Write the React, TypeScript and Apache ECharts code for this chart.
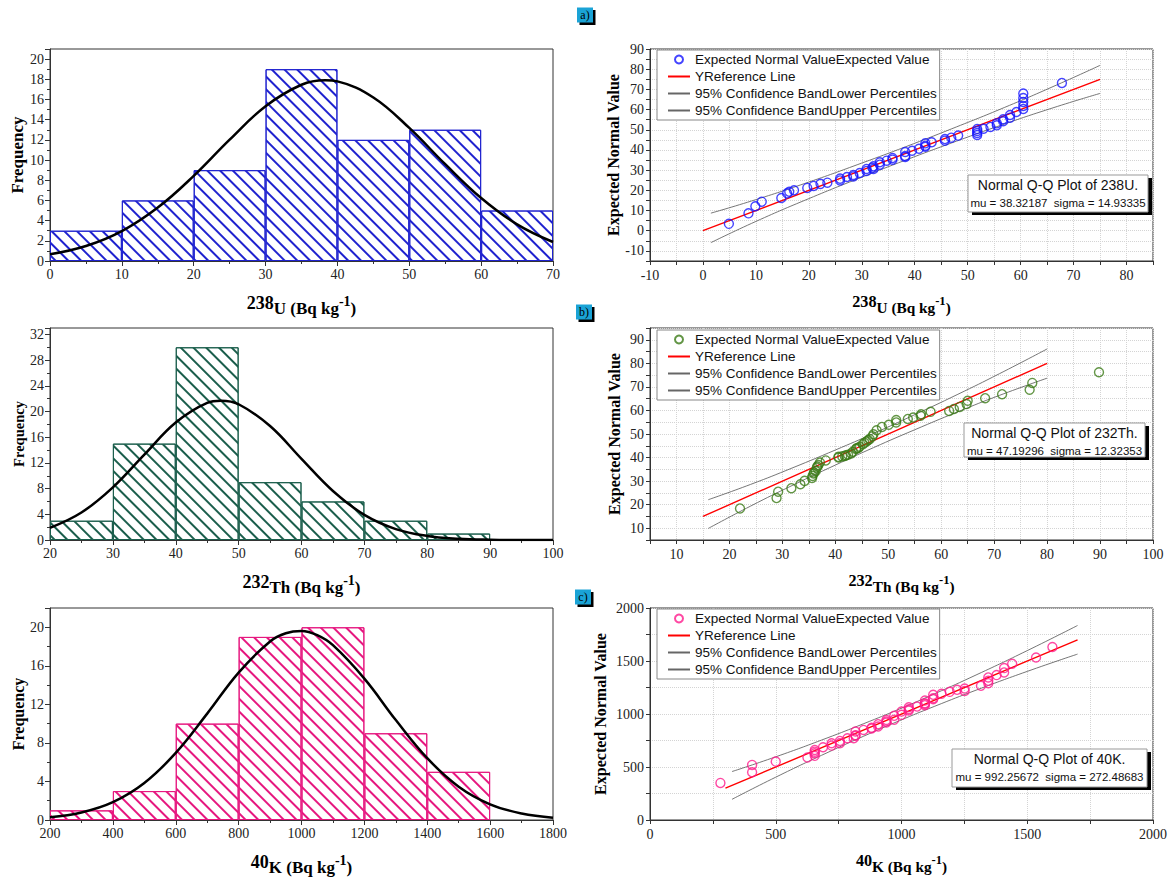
import React, { useEffect, useRef } from 'react';
import * as echarts from 'echarts';

const SERIF = 'Liberation Serif';
const SANS = 'Liberation Sans';

// ---------- Histogram data ----------
const uBinCenters = [5, 15, 25, 35, 45, 55, 65];
const uCounts = [3, 6, 9, 19, 12, 13, 5];
const uCurveX = [0, 5, 10, 15, 20, 25, 30, 35, 38.3, 40, 45, 50, 55, 60, 65, 70];
const uCurveY = [0.66, 1.48, 2.96, 5.29, 8.43, 12.02, 15.33, 17.46, 17.9, 17.79, 16.2, 13.18, 9.59, 6.24, 3.63, 1.88];

const thBinCenters = [25, 35, 45, 55, 65, 75, 85];
const thCounts = [3, 15, 30, 9, 6, 3, 1];
const thCurveX = [20, 25, 30, 35, 40, 45, 47.2, 50, 55, 60, 65, 70, 75, 80, 85, 90, 95, 100];
const thCurveY = [1.9, 4.28, 8.2, 13.29, 18.29, 21.35, 21.69, 21.13, 17.74, 12.63, 7.63, 3.91, 1.7, 0.63, 0.2, 0.05, 0.01, 0];

const kBinCenters = [300, 500, 700, 900, 1100, 1300, 1500];
const kCounts = [1, 3, 10, 19, 20, 9, 5];
const kCurveX = [200, 300, 400, 500, 600, 700, 800, 900, 950, 1000, 1050, 1100, 1200, 1300, 1400, 1500, 1600, 1700, 1800];
const kCurveY = [0.29, 0.78, 1.85, 3.84, 6.96, 11.04, 15.3, 18.53, 19.38, 19.61, 19.18, 18.14, 14.67, 10.37, 6.41, 3.46, 1.63, 0.67, 0.24];

// ---------- Q-Q data ----------
const uObs = [4.9, 8.6, 9.9, 11.1, 14.8, 15.9, 16.3, 17.2, 19.7, 20.9, 22.2, 23.5, 25.9, 25.9, 27.2, 28.4, 28.4, 29.6, 30.9, 30.9, 32.2, 32.0, 32.2, 33.4, 33.4, 34.7, 35.8, 35.8, 38.2, 38.2, 38.2, 39.5, 40.8, 42.0, 42.0, 42.0, 43.2, 45.7, 45.7, 46.9, 48.2, 51.8, 51.8, 51.8, 51.8, 53.0, 54.3, 55.5, 55.5, 56.7, 56.7, 58.0, 58.0, 59.2, 60.5, 60.5, 60.5, 60.5, 60.5, 67.8];
const uExp = [3.4, 8.6, 12.1, 14.4, 16.2, 18.5, 19.3, 20.0, 21.2, 22.2, 23.2, 23.8, 24.9, 25.8, 26.6, 26.9, 27.6, 28.6, 29.6, 30.6, 30.6, 31.2, 31.9, 32.7, 33.9, 34.7, 35.2, 36.0, 36.5, 37.0, 39.0, 39.6, 40.6, 41.6, 42.1, 43.3, 43.8, 44.6, 45.4, 46.1, 47.1, 47.4, 48.4, 49.4, 50.4, 50.5, 51.4, 52.2, 53.2, 54.2, 55.2, 56.0, 57.3, 58.8, 60.3, 61.8, 63.7, 65.7, 67.9, 73.2];
const uRefX = [0, 75];
const uRefY = [0, 75];
const uBandX = [1.5, 10, 20, 30, 38.3, 47, 57, 67, 75];
const uBandUpper = [8.7, 15.4, 24.1, 33.5, 41.6, 50.5, 61.1, 72.4, 81.9];
const uBandLower = [-5.9, 4.6, 15.9, 26.5, 35.0, 43.5, 52.9, 61.6, 68.0];

const thObs = [22.0, 28.9, 29.2, 31.7, 33.4, 34.2, 35.6, 35.7, 35.9, 36.0, 36.3, 36.5, 36.6, 36.8, 37.1, 38.2, 40.6, 40.6, 41.3, 41.8, 42.0, 42.4, 43.0, 43.3, 43.9, 44.0, 44.3, 44.6, 45.2, 45.5, 45.9, 46.2, 46.5, 47.0, 47.2, 47.8, 48.8, 50.1, 51.5, 51.5, 53.7, 54.7, 56.1, 56.2, 58.0, 61.5, 62.4, 63.5, 64.8, 65.0, 68.3, 71.5, 76.7, 77.2, 89.8];
const thExp = [18.4, 22.8, 25.5, 27.0, 28.7, 30.1, 31.3, 32.2, 33.2, 33.7, 34.3, 35.7, 36.2, 36.8, 37.9, 38.8, 40.0, 40.3, 40.5, 40.7, 41.0, 41.2, 41.7, 42.5, 43.6, 43.9, 44.1, 44.6, 45.7, 46.3, 46.8, 47.4, 47.9, 49.0, 49.9, 51.6, 53.0, 53.9, 54.9, 55.9, 56.4, 57.0, 57.7, 58.4, 59.4, 59.8, 60.6, 61.5, 62.7, 64.1, 65.2, 66.9, 68.8, 71.7, 76.2];
const thRefX = [15, 80];
const thRefY = [15, 80];
const thBandX = [16, 24, 32, 40, 47.2, 55, 63, 71, 80];
const thBandUpper = [22.1, 28.6, 35.7, 43.2, 50.2, 58.2, 66.7, 75.6, 86.1];
const thBandLower = [9.9, 19.4, 28.3, 36.8, 44.2, 51.8, 59.3, 66.4, 73.7];

const kObs = [280, 406, 406, 500, 626, 655, 655, 655, 655, 688, 722, 722, 755, 755, 785, 810, 817, 817, 817, 849, 881, 881, 907, 907, 940, 940, 940, 971, 971, 1000, 1000, 1029, 1029, 1029, 1062, 1093, 1093, 1093, 1093, 1126, 1126, 1126, 1159, 1192, 1221, 1251, 1251, 1316, 1345, 1345, 1345, 1378, 1408, 1408, 1440, 1535, 1600];
const kExp = [350, 450, 520, 551, 589, 605, 630, 645, 661, 686, 702, 724, 724, 746, 771, 771, 794, 800, 835, 850, 863, 870, 882, 904, 919, 930, 944, 945, 983, 992, 1023, 1033, 1045, 1064, 1070, 1083, 1095, 1102, 1127, 1140, 1149, 1181, 1190, 1209, 1228, 1218, 1240, 1266, 1291, 1313, 1345, 1367, 1392, 1433, 1474, 1533, 1632];
const kRefX = [300, 1700];
const kRefY = [300, 1700];
const kBandX = [326, 500, 700, 850, 992, 1130, 1300, 1500, 1700];
const kBandUpper = [457, 596, 770, 909, 1047, 1189, 1372, 1598, 1835];
const kBandLower = [195, 404, 630, 791, 937, 1071, 1228, 1402, 1565];

const uStats = { mu: '38.32187', sigma: '14.93335' };
const thStats = { mu: '47.19296', sigma: '12.32353' };
const kStats = { mu: '992.25672', sigma: '272.48683' };

const LEGEND_NAMES = [
  'Expected Normal ValueExpected Value',
  'YReference Line',
  '95% Confidence BandLower Percentiles',
  '95% Confidence BandUpper Percentiles',
];

const pairs = (xs: number[], ys: number[]) => xs.map((x, i) => [x, ys[i]]);

const GRID_W = 503;
const GRID_H = 212;
const LEFT_X = 50;
const RIGHT_X = 650;
const TOPS = [49, 328, 608];

function richName(s: number) {
  return {
    a: { fontFamily: SERIF, fontWeight: 'bold', fontSize: 18 * s, lineHeight: 18 * s, verticalAlign: 'top', color: '#000' },
    b: { fontFamily: SERIF, fontWeight: 'bold', fontSize: 17 * s, lineHeight: 23 * s, verticalAlign: 'bottom', color: '#000' },
    c: { fontFamily: SERIF, fontWeight: 'bold', fontSize: 14 * s, lineHeight: 14 * s, verticalAlign: 'top', color: '#000' },
  };
}

const axisLineStyle = { color: '#333', width: 1 };
const labelStyle = { fontFamily: SERIF, fontSize: 14, color: '#222' };

function histX(gi: number, min: number, max: number, interval: number, iso: string, el: string) {
  return {
    gridIndex: gi, type: 'value', min, max, interval,
    axisLine: { show: true, onZero: false, lineStyle: axisLineStyle },
    axisTick: { show: true, length: 5, lineStyle: axisLineStyle },
    minorTick: { show: true, splitNumber: 2, length: 3, lineStyle: axisLineStyle },
    axisLabel: { ...labelStyle, margin: 6, formatter: (v: number) => String(v) },
    splitLine: { show: false },
    name: `{a|${iso}}{b|${el} (Bq kg}{c|-1}{b|)}`,
    nameLocation: 'middle', nameGap: 33,
    nameTextStyle: { rich: richName(1) },
  };
}

function histY(gi: number, max: number, interval: number, nameSize: number) {
  return {
    gridIndex: gi, type: 'value', min: 0, max, interval,
    axisLine: { show: true, onZero: false, lineStyle: axisLineStyle },
    axisTick: { show: true, length: 5, lineStyle: axisLineStyle },
    minorTick: { show: true, splitNumber: 2, length: 3, lineStyle: axisLineStyle },
    axisLabel: { ...labelStyle, margin: 6, formatter: (v: number) => (v % interval === 0 ? String(v) : '') },
    splitLine: { show: false },
    name: 'Frequency', nameLocation: 'middle', nameGap: 24,
    nameTextStyle: { fontFamily: SERIF, fontWeight: 'bold', fontSize: nameSize, color: '#000' },
  };
}

const gridLine = { show: true, lineStyle: { color: '#d4d4d4', type: 'dotted', width: 1 } };

function qqX(gi: number, min: number, max: number, step: number, major: number, iso: string, el: string) {
  return {
    gridIndex: gi, type: 'value', min, max, interval: step,
    axisLine: { show: true, onZero: false, lineStyle: axisLineStyle },
    axisTick: { show: true, length: 4, lineStyle: axisLineStyle },
    axisLabel: { ...labelStyle, margin: 7, formatter: (v: number) => (v % major === 0 ? String(v) : '') },
    splitLine: gridLine,
    name: `{a|${iso}}{b|${el} (Bq kg}{c|-1}{b|)}`,
    nameLocation: 'middle', nameGap: 33,
    nameTextStyle: { rich: richName(0.9) },
  };
}

function qqY(gi: number, min: number, max: number, step: number, major: number, gap: number) {
  return {
    gridIndex: gi, type: 'value', min, max, interval: step,
    axisLine: { show: true, onZero: false, lineStyle: axisLineStyle },
    axisTick: { show: true, length: 4, lineStyle: axisLineStyle },
    axisLabel: { ...labelStyle, margin: 6, formatter: (v: number) => (v % major === 0 ? String(v) : '') },
    splitLine: gridLine,
    name: 'Expected Normal Value', nameLocation: 'middle', nameGap: gap,
    nameTextStyle: { fontFamily: SERIF, fontWeight: 'bold', fontSize: 16, color: '#000' },
  };
}

function histSeries(idx: number, centers: number[], counts: number[], curveX: number[], curveY: number[], color: string, barW: number) {
  return [
    {
      name: 'hist' + idx, type: 'bar', xAxisIndex: idx, yAxisIndex: idx,
      data: pairs(centers, counts), barWidth: barW, z: 2,
      itemStyle: {
        color: '#ffffff', borderColor: color, borderWidth: 1,
        decal: { symbol: 'rect', symbolSize: 1, color, dashArrayX: [1, 0], dashArrayY: [1.7, 7], rotation: Math.PI / 4 },
      },
    },
    {
      name: 'curve' + idx, type: 'line', xAxisIndex: idx, yAxisIndex: idx,
      data: pairs(curveX, curveY), smooth: 0.4, showSymbol: false, symbol: 'none', z: 4,
      lineStyle: { color: '#000', width: 2.5 },
    },
  ];
}

const NOFILL = 'rgba(0,0,0,0)';

function qqSeries(idx: number, tag: string, obs: number[], exp: number[], refX: number[], refY: number[], bx: number[], bl: number[], bu: number[], color: string) {
  return [
    {
      name: LEGEND_NAMES[2] + tag, type: 'line', xAxisIndex: idx, yAxisIndex: idx,
      data: pairs(bx, bl), smooth: 0.5, symbol: 'none', z: 3,
      itemStyle: { color: NOFILL, borderWidth: 0 },
      lineStyle: { color: '#666', width: 0.9 },
    },
    {
      name: LEGEND_NAMES[3] + tag, type: 'line', xAxisIndex: idx, yAxisIndex: idx,
      data: pairs(bx, bu), smooth: 0.5, symbol: 'none', z: 3,
      itemStyle: { color: NOFILL, borderWidth: 0 },
      lineStyle: { color: '#666', width: 0.9 },
    },
    {
      name: LEGEND_NAMES[1] + tag, type: 'line', xAxisIndex: idx, yAxisIndex: idx,
      data: pairs(refX, refY), symbol: 'none', z: 4,
      itemStyle: { color: NOFILL, borderWidth: 0 },
      lineStyle: { color: '#ff0000', width: 1.4 },
    },
    {
      name: LEGEND_NAMES[0] + tag, type: 'scatter', xAxisIndex: idx, yAxisIndex: idx,
      data: pairs(obs, exp), symbol: 'circle', symbolSize: 9, z: 5,
      itemStyle: { color: NOFILL, borderColor: color, borderWidth: 1.4 },
    },
  ];
}

function legendFor(tag: string, top: number) {
  return {
    orient: 'vertical', left: 657, top,
    data: [LEGEND_NAMES[0] + tag, LEGEND_NAMES[1] + tag, LEGEND_NAMES[2] + tag, LEGEND_NAMES[3] + tag],
    formatter: (n: string) => n.split('|')[0],
    selectedMode: false,
    itemWidth: 22, itemHeight: 8, itemGap: 2,
    padding: [2, 3, 2, 10],
    borderColor: '#888', borderWidth: 1, backgroundColor: '#fff',
    textStyle: { fontFamily: SANS, fontSize: 13.5, color: '#111', lineHeight: 15 },
  };
}

function qqBox(x: number, y: number, w: number, h: number, title: string, sub: string) {
  return [
    { type: 'rect', shape: { x: x + 4, y: y + 3, width: w, height: h }, style: { fill: '#000' }, z: 100 },
    { type: 'rect', shape: { x, y, width: w, height: h }, style: { fill: '#fff', stroke: '#999', lineWidth: 1 }, z: 101 },
    { type: 'text', x: x + w / 2, y: y + 10, z: 102, style: { text: title, fill: '#111', font: `14px ${SANS}`, textAlign: 'center', textVerticalAlign: 'middle' } },
    { type: 'text', x: x + w / 2, y: y + 28, z: 102, style: { text: sub, fill: '#111', font: `11.5px ${SANS}`, textAlign: 'center', textVerticalAlign: 'middle' } },
  ];
}

function badge(cx: number, cy: number, t: string) {
  return [
    { type: 'rect', shape: { x: cx - 8 + 2.5, y: cy - 7.5 + 2.5, width: 16, height: 15 }, style: { fill: '#000' }, z: 100 },
    { type: 'rect', shape: { x: cx - 8, y: cy - 7.5, width: 16, height: 15 }, style: { fill: '#1aa3d6' }, z: 101 },
    { type: 'text', x: cx, y: cy, z: 102, style: { text: t, fill: '#000', font: `12px ${SERIF}`, textAlign: 'center', textVerticalAlign: 'middle' } },
  ];
}

function buildOption() {
  const grids = [
    ...TOPS.map((t) => ({ left: LEFT_X, top: t, width: GRID_W, height: GRID_H, show: true, borderColor: '#333', borderWidth: 1, backgroundColor: 'transparent' })),
    ...TOPS.map((t) => ({ left: RIGHT_X, top: t, width: GRID_W, height: GRID_H, show: true, borderColor: '#333', borderWidth: 1, backgroundColor: 'transparent' })),
  ];
  const xAxes = [
    histX(0, 0, 70, 10, '238', 'U'),
    histX(1, 20, 100, 10, '232', 'Th'),
    histX(2, 200, 1800, 200, '40', 'K'),
    qqX(3, -10, 85, 5, 10, '238', 'U'),
    qqX(4, 5, 100, 5, 10, '232', 'Th'),
    qqX(5, 0, 2000, 250, 500, '40', 'K'),
  ];
  const yAxes = [
    histY(0, 21, 2, 17),
    histY(1, 33, 4, 14.5),
    histY(2, 22, 4, 16),
    qqY(3, -15, 90, 5, 10, 28),
    qqY(4, 5, 95, 5, 10, 28),
    qqY(5, 0, 2000, 250, 500, 42),
  ];
  const series = [
    ...histSeries(0, uBinCenters, uCounts, uCurveX, uCurveY, '#1f22cf', (GRID_W * 10) / 70),
    ...histSeries(1, thBinCenters, thCounts, thCurveX, thCurveY, '#1b5e4c', (GRID_W * 10) / 80),
    ...histSeries(2, kBinCenters, kCounts, kCurveX, kCurveY, '#e6177f', (GRID_W * 200) / 1600),
    ...qqSeries(3, '|a', uObs, uExp, uRefX, uRefY, uBandX, uBandLower, uBandUpper, '#1515ff'),
    ...qqSeries(4, '|b', thObs, thExp, thRefX, thRefY, thBandX, thBandLower, thBandUpper, '#3b7a17'),
    ...qqSeries(5, '|c', kObs, kExp, kRefX, kRefY, kBandX, kBandLower, kBandUpper, '#ff1a8c'),
  ];
  const graphic = [
    ...qqBox(968, 175, 180, 37, 'Normal Q-Q Plot of 238U.', `mu = ${uStats.mu}  sigma = ${uStats.sigma}`),
    ...qqBox(964, 423, 181, 34, 'Normal Q-Q Plot of 232Th.', `mu = ${thStats.mu}  sigma = ${thStats.sigma}`),
    ...qqBox(952, 749, 195, 38, 'Normal Q-Q Plot of 40K.', `mu = ${kStats.mu}  sigma = ${kStats.sigma}`),
    ...badge(585, 15, 'a)'),
    ...badge(584, 312, 'b)'),
    ...badge(583, 597, 'c)'),
  ];
  return {
    animation: false,
    backgroundColor: '#ffffff',
    grid: grids,
    xAxis: xAxes,
    yAxis: yAxes,
    legend: [legendFor('|a', 50), legendFor('|b', 330), legendFor('|c', 609)],
    series,
    graphic,
  };
}

export default function App() {
  const ref = useRef<HTMLDivElement | null>(null);
  useEffect(() => {
    if (!ref.current) return;
    const chart = echarts.init(ref.current, undefined, { renderer: 'svg' });
    chart.setOption(buildOption() as any);
    return () => chart.dispose();
  }, []);
  return (
    <div style={{ position: 'absolute', left: 0, top: 0, width: 1170, height: 877, background: '#fff' }}>
      <div ref={ref} style={{ width: 1170, height: 877 }} />
    </div>
  );
}
